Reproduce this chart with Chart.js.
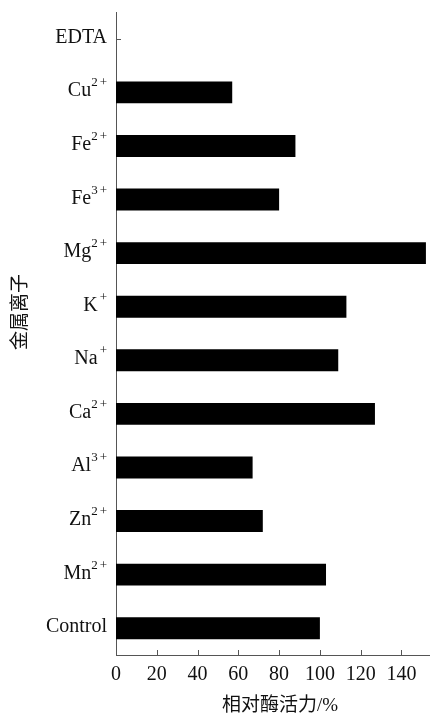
<!DOCTYPE html>
<html>
<head>
<meta charset="utf-8">
<script src="https://cdn.jsdelivr.net/npm/chart.js@4"></script>
<style>
  html, body { margin: 0; padding: 0; background: #fff; }
</style>
</head>
<body>
<canvas id="ionChart" width="430" height="715"></canvas>
<script>
// data, read top to bottom
const ions = ['EDTA', 'Cu', 'Fe', 'Fe', 'Mg', 'K', 'Na', 'Ca', 'Al', 'Zn', 'Mn', 'Control'];
const charges = ['', '2+', '2+', '3+', '2+', '+', '+', '2+', '3+', '2+', '2+', ''];
const activity = [0, 57, 88, 80, 152, 113, 109, 127, 67, 72, 103, 100];
const xMax = 154;
const xStep = 20;
const xTitle = '相对酶活力/%';
const yTitle = '金属离子';

const serif = "'Liberation Serif', 'Times New Roman', serif";
const cjk = "'Liberation Serif', 'Noto Sans CJK SC', sans-serif";
const axisColor = '#555';
const textColor = '#111';

// inward tick marks, category labels with superscripts, axis titles
const ionLabels = {
  id: 'ionLabels',
  beforeDatasetsDraw(chart) {
    const { ctx, chartArea, scales: { x, y } } = chart;
    ctx.save();
    ctx.strokeStyle = axisColor;
    ctx.lineWidth = 1;
    ctx.beginPath();
    x.ticks.forEach((t) => {
      if (t.value === 0) return;
      const px = Math.round(x.getPixelForValue(t.value)) + 0.5;
      ctx.moveTo(px, chartArea.bottom);
      ctx.lineTo(px, chartArea.bottom - 5);
    });
    ions.forEach((_, i) => {
      const py = Math.round(y.getPixelForValue(i)) + 0.5;
      ctx.moveTo(chartArea.left, py);
      ctx.lineTo(chartArea.left + 5, py);
    });
    ctx.stroke();
    ctx.restore();
  },
  afterDraw(chart) {
    const { ctx, chartArea, scales: { y } } = chart;
    const right = chartArea.left - 9;
    ctx.save();
    ctx.fillStyle = textColor;
    ctx.textAlign = 'right';
    ctx.textBaseline = 'alphabetic';
    ions.forEach((name, i) => {
      const base = y.getPixelForValue(i) + 4;
      let end = right;
      const charge = charges[i];
      if (charge) {
        ctx.font = `13px ${serif}`;
        // sign and digit drawn apart, a little gap like the original
        ctx.fillText('+', end, base - 10);
        end -= ctx.measureText('+').width;
        const digit = charge.slice(0, -1);
        if (digit) {
          end -= 2;
          ctx.fillText(digit, end, base - 10);
          end -= ctx.measureText(digit).width;
        } else {
          end -= 2;
        }
      }
      ctx.font = `20px ${serif}`;
      ctx.fillText(name, end, base);
    });

    // axis titles
    ctx.textAlign = 'center';
    ctx.textBaseline = 'middle';
    ctx.font = `19px ${cjk}`;
    ctx.fillText(xTitle, 280, 706);
    ctx.translate(21, 312);
    ctx.rotate(-Math.PI / 2);
    ctx.fillText(yTitle, 0, 0);
    ctx.restore();
  },
};

const config = {
  type: 'bar',
  data: {
    labels: ions,
    datasets: [
      {
        data: activity,
        backgroundColor: '#000',
        borderWidth: 0,
        categoryPercentage: 1,
        barPercentage: 0.41,
      },
    ],
  },
  options: {
    indexAxis: 'y',
    responsive: false,
    animation: false,
    layout: { padding: { top: 12, right: 0, left: 0, bottom: 0 } },
    scales: {
      x: {
        min: 0,
        max: xMax,
        afterFit: (scale) => {
          scale.height = 60;
        },
        ticks: {
          stepSize: xStep,
          includeBounds: false,
          padding: 8,
          color: textColor,
          font: { family: serif, size: 20 },
        },
        grid: { display: false, drawTicks: false },
        border: { display: true, color: axisColor, width: 1 },
      },
      y: {
        afterFit: (scale) => {
          scale.width = 116;
        },
        ticks: { display: false },
        grid: { display: false, drawTicks: false },
        border: { display: true, color: axisColor, width: 1 },
      },
    },
    plugins: {
      legend: { display: false },
      tooltip: { enabled: false },
    },
  },
  plugins: [ionLabels],
};

new Chart(document.getElementById('ionChart').getContext('2d'), config);
</script>
</body>
</html>
